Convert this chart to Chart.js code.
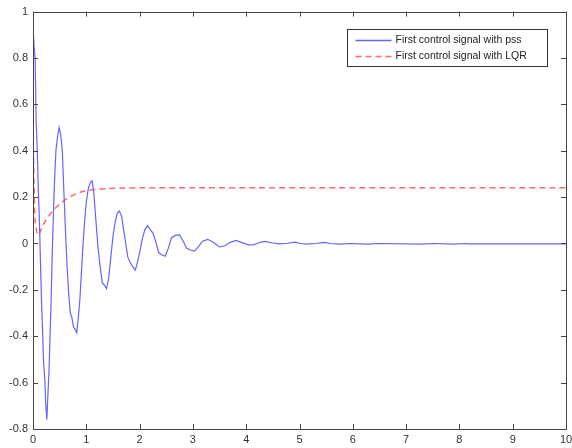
<!DOCTYPE html>
<html>
<head>
<meta charset="utf-8">
<script src="https://cdn.jsdelivr.net/npm/chart.js@4.4.1/dist/chart.umd.min.js"></script>
<style>
  html, body { margin: 0; padding: 0; background: #fff; }
  #wrap { width: 572px; height: 448px; }
</style>
</head>
<body>
<div id="wrap"><canvas id="grafico"></canvas></div>
<script>
// datos
const tPss = [0, 0.02, 0.04, 0.06, 0.08, 0.10, 0.12, 0.14, 0.16, 0.18, 0.20, 0.22, 0.24, 0.26, 0.28, 0.30,
  0.32, 0.34, 0.36, 0.38, 0.40, 0.43, 0.46, 0.49, 0.52, 0.55, 0.58, 0.61, 0.64, 0.67, 0.70, 0.73, 0.76,
  0.79, 0.82, 0.85, 0.88, 0.91, 0.94, 0.97, 1.00, 1.04, 1.08, 1.11, 1.14, 1.18, 1.22, 1.26, 1.30, 1.34,
  1.38, 1.42, 1.46, 1.50, 1.54, 1.58, 1.62, 1.66, 1.70, 1.74, 1.78, 1.82, 1.87, 1.92, 1.96, 2.00, 2.05,
  2.10, 2.15, 2.20, 2.25, 2.30, 2.36, 2.42, 2.48, 2.54, 2.60, 2.67, 2.75, 2.82, 2.88, 2.95, 3.03, 3.10,
  3.18, 3.28, 3.38, 3.50, 3.60, 3.70, 3.81, 3.92, 4.04, 4.15, 4.25, 4.35, 4.50, 4.63, 4.77, 4.91, 5.02,
  5.13, 5.30, 5.47, 5.58, 5.75, 5.95, 6.28, 6.50, 7.30, 7.50, 7.90, 8.10, 8.20, 10];
const pss = [0.93, 0.85, 0.80, 0.52, 0.40, 0.23, 0.10, -0.08, -0.25, -0.38, -0.52, -0.58, -0.70, -0.76, -0.65, -0.55,
  -0.40, -0.25, -0.05, 0.10, 0.25, 0.40, 0.46, 0.50, 0.47, 0.40, 0.22, 0.05, -0.10, -0.22, -0.30, -0.32, -0.36,
  -0.37, -0.385, -0.32, -0.24, -0.12, 0.0, 0.10, 0.18, 0.24, 0.265, 0.27, 0.22, 0.10, -0.02, -0.10, -0.17, -0.18,
  -0.195, -0.15, -0.06, 0.03, 0.09, 0.13, 0.14, 0.12, 0.06, 0.0, -0.06, -0.08, -0.10, -0.115, -0.08, -0.04, 0.02,
  0.06, 0.077, 0.06, 0.045, 0.01, -0.04, -0.05, -0.055, -0.02, 0.025, 0.035, 0.037, 0.01, -0.02, -0.028, -0.033, -0.015,
  0.01, 0.018, 0.005, -0.015, -0.01, 0.005, 0.013, 0.004, -0.006, -0.005, 0.004, 0.009, 0.002, -0.002, 0.001, 0.006, 0.0,
  -0.003, 0.0, 0.005, 0.0, -0.003, 0.0, -0.003, 0.0, -0.003, 0.0, -0.003, 0.0, -0.002, -0.002];

const tLqr = [0, 0.02, 0.04, 0.07, 0.10, 0.20, 0.30, 0.40, 0.50, 0.60, 0.70, 0.80, 0.90, 1.00, 1.20, 1.40, 1.70, 2.00, 10];
const lqr = [0.50, 0.25, 0.10, 0.05, 0.035, 0.085, 0.12, 0.148, 0.17, 0.188, 0.202, 0.213, 0.222, 0.228, 0.234, 0.237, 0.239, 0.24, 0.24];

const etiquetas = ["First control signal with pss", "First control signal with LQR"];
const xTicks = [0, 1, 2, 3, 4, 5, 6, 7, 8, 9, 10];
const yTicks = [-0.8, -0.6, -0.4, -0.2, 0, 0.2, 0.4, 0.6, 0.8, 1];

const fuente = { family: "'Liberation Sans', Arial, sans-serif", size: 11 };

// caja + marcas hacia dentro, estilo matlab
const cajaMatlab = {
  id: "cajaMatlab",
  afterDraw(chart) {
    const { ctx, chartArea: a, scales } = chart;
    const largo = 5;
    ctx.save();
    ctx.strokeStyle = "#444";
    ctx.lineWidth = 1;
    ctx.beginPath();
    xTicks.forEach(v => {
      const px = Math.round(scales.x.getPixelForValue(v)) + 0.5;
      ctx.moveTo(px, a.bottom); ctx.lineTo(px, a.bottom - largo);
      ctx.moveTo(px, a.top); ctx.lineTo(px, a.top + largo);
    });
    yTicks.forEach(v => {
      const py = Math.round(scales.y.getPixelForValue(v)) + 0.5;
      ctx.moveTo(a.left, py); ctx.lineTo(a.left + largo, py);
      ctx.moveTo(a.right, py); ctx.lineTo(a.right - largo, py);
    });
    ctx.stroke();
    ctx.strokeRect(Math.round(a.left) + 0.5, Math.round(a.top) + 0.5,
      Math.round(a.right - a.left), Math.round(a.bottom - a.top));

    // leyenda
    const lx = 347.5, ly = 29.5, lw = 200, lh = 37;
    ctx.fillStyle = "#fff";
    ctx.fillRect(lx, ly, lw, lh);
    ctx.strokeStyle = "#333";
    ctx.strokeRect(lx, ly, lw, lh);
    ctx.font = "10.5px 'Liberation Sans', Arial, sans-serif";
    ctx.textBaseline = "middle";
    chart.data.datasets.forEach((ds, i) => {
      const y = Math.round(ly + 10 + i * 16) + 0.5;
      ctx.strokeStyle = ds.borderColor;
      ctx.lineWidth = 1.5;
      ctx.setLineDash(ds.borderDash || []);
      ctx.beginPath();
      ctx.moveTo(lx + 8, y); ctx.lineTo(lx + 44, y);
      ctx.stroke();
      ctx.setLineDash([]);
      ctx.fillStyle = "#222";
      ctx.fillText(ds.label, lx + 48, y);
    });
    ctx.restore();
  }
};

new Chart(document.getElementById("grafico"), {
  type: "line",
  data: {
    datasets: [
      {
        label: etiquetas[0],
        data: tPss.map((t, i) => ({ x: t, y: pss[i] })),
        borderColor: "#6464ff",
        borderWidth: 1.2,
        pointRadius: 0,
        tension: 0
      },
      {
        label: etiquetas[1],
        data: tLqr.map((t, i) => ({ x: t, y: lqr[i] })),
        borderColor: "#ff6b6b",
        borderWidth: 1.5,
        borderDash: [6, 4],
        pointRadius: 0,
        tension: 0.3
      }
    ]
  },
  options: {
    responsive: true,
    maintainAspectRatio: false,
    animation: false,
    layout: { padding: { top: 4, right: 0, left: 0, bottom: 0 } },
    plugins: { legend: { display: false }, tooltip: { enabled: false } },
    scales: {
      x: {
        type: "linear",
        min: 0, max: 10,
        afterFit: s => { s.height = 19; s.paddingRight = 6; },
        afterBuildTicks: s => { s.ticks = xTicks.map(v => ({ value: v })); },
        grid: { display: false, drawTicks: false },
        border: { display: false },
        ticks: { font: fuente, color: "#333", padding: 4, maxRotation: 0, autoSkip: false }
      },
      y: {
        type: "linear",
        min: -0.8, max: 1,
        afterFit: s => { s.width = 33; },
        afterBuildTicks: s => { s.ticks = yTicks.map(v => ({ value: v })); },
        grid: { display: false, drawTicks: false },
        border: { display: false },
        ticks: { font: fuente, color: "#333", padding: 5, autoSkip: false,
          callback: v => String(Math.round(v * 10) / 10) }
      }
    }
  },
  plugins: [cajaMatlab]
});
</script>
</body>
</html>
